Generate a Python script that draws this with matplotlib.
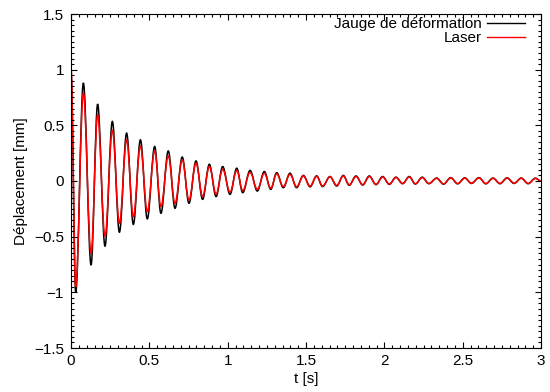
import matplotlib
matplotlib.use('Agg')
import matplotlib.pyplot as plt
from matplotlib.path import Path
from matplotlib.patches import PathPatch
from matplotlib.ticker import MultipleLocator

plt.rcParams['font.family'] = ['Liberation Sans', 'DejaVu Sans']
plt.rcParams['font.size'] = 11

# extrema (time in s, displacement in mm)
t_ext = [0.0, 0.030, 0.079, 0.128, 0.170, 0.217, 0.264, 0.309, 0.355, 0.398,
         0.443, 0.487, 0.534, 0.574, 0.621, 0.664, 0.710, 0.753, 0.798, 0.840,
         0.883, 0.926, 0.968, 1.015, 1.058, 1.096, 1.143, 1.189, 1.234, 1.275,
         1.313, 1.355, 1.398, 1.440, 1.483, 1.526, 1.568, 1.606, 1.653, 1.696,
         1.738, 1.776, 1.819, 1.862, 1.904, 1.947, 1.989, 2.032, 2.074, 2.117,
         2.159, 2.198, 2.242, 2.284, 2.334, 2.378, 2.424, 2.468, 2.514, 2.556,
         2.604, 2.648, 2.694, 2.738, 2.784, 2.828, 2.874, 2.918, 2.964, 3.0]

jauge = [1.0, -1.0, 0.88, -0.755, 0.69, -0.585, 0.535, -0.46, 0.43, -0.39,
         0.37, -0.34, 0.31, -0.29, 0.27, -0.245, 0.215, -0.2, 0.18, -0.165,
         0.15, -0.14, 0.13, -0.12, 0.115, -0.105, 0.095, -0.09, 0.085, -0.075,
         0.075, -0.06, 0.07, -0.06, 0.05, -0.052, 0.046, -0.05, 0.04, -0.045,
         0.05, -0.038, 0.045, -0.036, 0.045, -0.032, 0.04, -0.03, 0.034, -0.024,
         0.04, -0.027, 0.034, -0.024, 0.026, -0.028, 0.03, -0.025, 0.028, -0.022,
         0.03, -0.025, 0.026, -0.024, 0.028, -0.022, 0.026, -0.024, 0.025, 0.0]

laser = [1.0, -0.95, 0.79, -0.65, 0.595, -0.495, 0.455, -0.38, 0.37, -0.32,
         0.315, -0.275, 0.27, -0.23, 0.225, -0.2, 0.19, -0.17, 0.16, -0.14,
         0.13, -0.117, 0.105, -0.1, 0.095, -0.087, 0.078, -0.075, 0.07, -0.065,
         0.065, -0.05, 0.06, -0.052, 0.046, -0.046, 0.042, -0.045, 0.038, -0.04,
         0.045, -0.034, 0.04, -0.032, 0.04, -0.03, 0.036, -0.028, 0.032, -0.022,
         0.036, -0.025, 0.03, -0.022, 0.024, -0.026, 0.028, -0.023, 0.026, -0.02,
         0.028, -0.023, 0.024, -0.022, 0.026, -0.02, 0.024, -0.022, 0.023, 0.0]


def smooth_path(ts, ys):
    # cubic bezier between extrema, flat tangents at each peak
    verts = [(ts[0], ys[0])]
    codes = [Path.MOVETO]
    for i in range(1, len(ts)):
        dt = ts[i] - ts[i - 1]
        verts += [(ts[i - 1] + 0.36 * dt, ys[i - 1]), (ts[i] - 0.36 * dt, ys[i]), (ts[i], ys[i])]
        codes += [Path.CURVE4] * 3
    return Path(verts, codes)


fig = plt.figure(figsize=(5.5, 3.92), dpi=100)
ax = fig.add_axes([71 / 550, 1 - 348 / 392, 470 / 550, 334 / 392])

ax.add_patch(PathPatch(smooth_path(t_ext, jauge), fill=False, edgecolor='black', lw=1.1))
ax.add_patch(PathPatch(smooth_path(t_ext, laser), fill=False, edgecolor='red', lw=1.1))

# legend proxies
ax.plot([], [], color='black', lw=1.0, label='Jauge de déformation')
ax.plot([], [], color='red', lw=1.0, label='Laser')

ax.set_xlim(0, 3)
ax.set_ylim(-1.5, 1.5)
ax.xaxis.set_major_locator(MultipleLocator(0.5))
ax.xaxis.set_minor_locator(MultipleLocator(0.05))
ax.yaxis.set_major_locator(MultipleLocator(0.5))
ax.yaxis.set_minor_locator(MultipleLocator(0.05))
ax.yaxis.set_major_formatter(plt.FuncFormatter(lambda v, _: ('%g' % v).replace('-', '\u2212')))
ax.xaxis.set_major_formatter(plt.FuncFormatter(lambda v, _: '%g' % v))

ax.tick_params(which='both', direction='in', top=True, right=True, width=0.8)
ax.tick_params(which='major', length=4.5)
ax.tick_params(which='minor', length=2.2)
ax.tick_params(axis='y', which='major', pad=5)
ax.tick_params(axis='x', which='major', pad=4)

ax.set_xlabel('t [s]', labelpad=3)
ax.set_ylabel('Déplacement [mm]', labelpad=4)

ax.legend(loc='upper right', bbox_to_anchor=(1 - 10 / 470, 1 + 3 / 334), frameon=False,
          markerfirst=False, handlelength=2.5, handletextpad=0.3, labelspacing=0.0,
          borderaxespad=0.1, borderpad=0.3)

fig.savefig('out.png', dpi=100)
